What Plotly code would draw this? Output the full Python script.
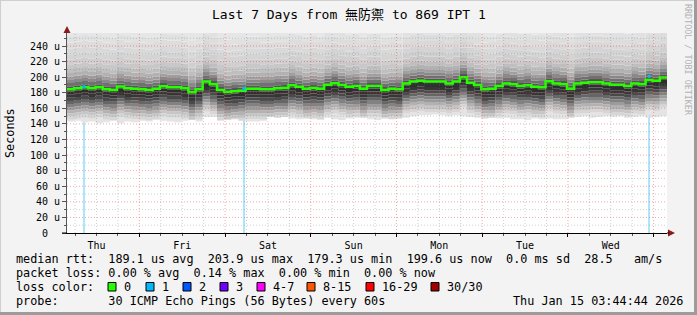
import plotly.graph_objects as go
import pandas as pd

# ---------------- data ----------------
start_time = "2026-01-08 03:44:44"
end_time = "2026-01-15 03:44:44"
step = "2h"

# median RTT in microseconds, one value per 2 h bin
median_rtt = [
    184.5, 185.7, 187.0, 185.7, 187.0, 184.5, 183.5, 188.0, 185.7, 185.0, 184.5, 183.5, 185.0, 188.5,
    187.0, 187.0, 185.7, 180.5, 184.5, 194.5, 191.0, 183.5, 181.0, 182.0, 182.6, 185.0, 185.0, 184.5,
    184.5, 185.7, 186.0, 189.5, 187.8, 185.0, 186.0, 185.0, 190.3, 192.1, 190.0, 187.8, 188.6, 185.0,
    188.6, 188.6, 183.5, 185.0, 184.5, 192.0, 194.3, 195.5, 194.3, 194.3, 194.3, 192.0, 194.3, 200.0,
    193.0, 190.0, 184.5, 185.0, 188.6, 192.0, 191.0, 188.6, 189.5, 187.8, 187.0, 194.7, 192.0, 191.0,
    185.0, 192.0, 193.0, 193.6, 193.6, 192.0, 190.3, 190.3, 188.6, 192.0, 191.0, 196.4, 195.5, 199.6,
]
# lowest ping of each bin (bottom edge of the smoke), microseconds
smoke_min = [
    143, 144, 142, 143, 141, 142, 144, 141, 143, 142, 144, 143, 145, 144,
    143, 142, 144, 145, 143, 149, 149, 144, 145, 146, 144, 143, 143, 144,
    149, 148, 149, 147, 146, 147, 146, 145, 148, 146, 145, 147, 148, 148,
    146, 145, 147, 146, 147, 148, 150, 151, 151, 152, 151, 150, 151, 150,
    149, 148, 147, 148, 147, 148, 146, 146, 145, 147, 146, 147, 146, 146,
    148, 149, 150, 148, 149, 150, 149, 150, 148, 149, 150, 148, 149, 150,
]
# spread of the 30 pings around the median (us below / above), one smoke shade per level
smoke_below = [39, 35, 31, 27, 23, 19, 15, 11, 7, 3]
smoke_above = [4, 8, 12, 16, 21, 26, 32, 38, 45, 52, 60, 67]
smoke_colors = [
    # below the median, from the lowest ping upwards
    "#e4e4e4", "#d6d6d6", "#c6c6c6", "#b2b2b2", "#9c9c9c", "#828282", "#666666", "#4a4a4a",
    "#363636", "#2e2e2e", "#3a3a3a",
    # above the median, upwards
    "#565656", "#707070", "#8a8a8a", "#a0a0a0", "#b2b2b2", "#bfbfbf", "#c8c8c8", "#cfcfcf",
    "#d4d4d4", "#d9d9d9", "#dddddd", "#e1e1e1", "#e6e6e6",
]
smoke_ceiling = 262

# packet loss events
loss_times = ["2026-01-08 08:30:00", "2026-01-10 05:15:00", "2026-01-14 22:45:00"]
loss_count = [1, 1, 1]
loss_rtt = [187.8, 185.0, 201.0]

y_ticks = [0, 20, 40, 60, 80, 100, 120, 140, 160, 180, 200, 220, 240]
y_tick_labels = ["0\u00a0\u00a0", "20 u", "40 u", "60 u", "80 u", "100 u", "120 u", "140 u",
                 "160 u", "180 u", "200 u", "220 u", "240 u"]
y_top = 256.7

loss_legend_labels = ["0", "1", "2", "3", "4-7", "8-15", "16-29", "30/30"]
loss_legend_colors = ["#26ff00", "#00b8ff", "#0059ff", "#7000ff", "#ff00ff", "#ff5500", "#ff0000", "#a10000"]
loss_bar_color = "#ade6fa"

title = "Last 7 Days from 無防禦 to 869 IPT 1"
stat_lines = [
    "median rtt:  189.1 us avg  203.9 us max  179.3 us min  199.6 us now  0.0 ms sd  28.5   am/s",
    "packet loss: 0.00 % avg  0.14 % max  0.00 % min  0.00 % now",
    "loss color:",
    "probe:       30 ICMP Echo Pings (56 Bytes) every 60s",
]
stamp = "Thu Jan 15 03:44:44 2026"

# ---------------- figure ----------------
W_FIG, H_FIG = 697, 315
L, T, PW, PH = 67, 33, 600, 200


def px(x):
    return (x - L) / PW


def py(y):
    return (T + PH - y) / PH


times = list(pd.date_range(start_time, periods=len(median_rtt), freq=step))
xs = times + [pd.Timestamp(end_time)]


def ext(v):
    return list(v) + [v[-1]]


fig = go.Figure()

# loss bars (drawn underneath the smoke)
ms_per_px = 7 * 86400000 / PW
fig.add_trace(go.Bar(x=loss_times, y=[y_top] * len(loss_times), width=[2 * ms_per_px] * len(loss_times),
                     marker=dict(color=loss_bar_color, line=dict(width=0)), hoverinfo="skip",
                     showlegend=False))

# smoke
edges = [smoke_min]
for off in smoke_below:
    edges.append([max(m - off, lo) for m, lo in zip(median_rtt, smoke_min)])
edges.append(list(median_rtt))
for off in smoke_above:
    edges.append([m + off for m in median_rtt])
edges.append([smoke_ceiling] * len(median_rtt))

fig.add_trace(go.Scatter(x=xs, y=ext(edges[0]), mode="lines", line=dict(width=0, shape="hv"),
                         hoverinfo="skip", showlegend=False))
for e, col in zip(edges[1:], smoke_colors):
    fig.add_trace(go.Scatter(x=xs, y=ext(e), mode="lines", line=dict(width=0, shape="hv"),
                             fill="tonexty", fillcolor=col, hoverinfo="skip", showlegend=False))

# median line
fig.add_trace(go.Scatter(x=xs, y=ext(median_rtt), mode="lines",
                         line=dict(color="#26ff00", width=2.5, shape="hv"),
                         hoverinfo="skip", showlegend=False))
fig.add_trace(go.Scatter(x=loss_times, y=loss_rtt, mode="markers",
                         marker=dict(symbol="square", size=3, color=[loss_legend_colors[c] for c in loss_count]),
                         hoverinfo="skip", showlegend=False))

mono = "DejaVu Sans Mono"
shapes = []

# grid drawn on top of the graph, like rrdtool
for v in range(10, int(y_top) + 1, 10):
    major = v % 20 == 0
    shapes.append(dict(type="line", xref="paper", yref="y", x0=0, x1=1, y0=v, y1=v, layer="above",
                       line=dict(color="rgba(235,60,60,0.45)" if major else "rgba(120,120,120,0.35)",
                                 width=1, dash="1px,2px")))
for t in pd.date_range("2026-01-08 06:00", "2026-01-15 00:00", freq="6h"):
    major = t.hour == 0
    shapes.append(dict(type="line", xref="x", yref="paper", x0=t, x1=t, y0=0, y1=1, layer="above",
                       line=dict(color="rgba(235,60,60,0.45)" if major else "rgba(120,120,120,0.35)",
                                 width=1, dash="1px,2px")))

# axis arrows
arrow_col = "#8b1a1a"
shapes.append(dict(type="path", xref="paper", yref="paper", layer="above",
                   path=f"M {px(668)} {py(229.5)} L {px(675)} {py(233)} L {px(668)} {py(236.5)} Z",
                   fillcolor=arrow_col, line=dict(width=0)))
shapes.append(dict(type="path", xref="paper", yref="paper", layer="above",
                   path=f"M {px(63.5)} {py(33)} L {px(67)} {py(26)} L {px(70.5)} {py(33)} Z",
                   fillcolor=arrow_col, line=dict(width=0)))
shapes.append(dict(type="line", xref="paper", yref="paper", x0=px(667), x1=px(669), y0=0, y1=0,
                   line=dict(color="black", width=1)))
shapes.append(dict(type="line", xref="paper", yref="paper", x0=px(62), x1=0, y0=0, y1=0,
                   line=dict(color="black", width=1)))

# frame of the image
shapes.append(dict(type="line", xref="paper", yref="paper", x0=px(0), x1=px(697), y0=py(0.5), y1=py(0.5),
                   line=dict(color="#cfcfcf", width=1)))
shapes.append(dict(type="line", xref="paper", yref="paper", x0=px(0.5), x1=px(0.5), y0=py(0), y1=py(315),
                   line=dict(color="#cfcfcf", width=1)))
shapes.append(dict(type="line", xref="paper", yref="paper", x0=px(0), x1=px(697), y0=py(313.5), y1=py(313.5),
                   line=dict(color="#9c9c9c", width=3)))
shapes.append(dict(type="line", xref="paper", yref="paper", x0=px(695.5), x1=px(695.5), y0=py(0), y1=py(315),
                   line=dict(color="#9c9c9c", width=3)))

annotations = []


def txt(x, y, s, size=11.8, anchor="left", color="black", angle=0, fam=mono):
    annotations.append(dict(x=px(x), y=py(y), xref="paper", yref="paper", text=s.replace(" ", "\u00a0"),
                            showarrow=False, xanchor=anchor, yanchor="middle", textangle=angle,
                            font=dict(family=fam, size=size, color=color), borderpad=0))


txt(348.5, 15, title, size=13, anchor="center", fam="DejaVu Sans Mono, Noto Sans CJK TC")
txt(10, 133, "Seconds", size=11.8, anchor="center", angle=-90)
txt(688, 60, "RRDTOOL / TOBI OETIKER", size=8.4, anchor="center", angle=90, color="#b2b2b2")

line_y = [259, 273, 287, 301]
for s, yy in zip(stat_lines, line_y):
    txt(15, yy, s)
txt(512, 301, stamp)

swatch_x = [108, 146, 183, 220, 257, 307, 366, 431]
for sx, lab, col in zip(swatch_x, loss_legend_labels, loss_legend_colors):
    shapes.append(dict(type="rect", xref="paper", yref="paper", x0=px(sx), x1=px(sx + 8),
                       y0=py(291), y1=py(282.5), fillcolor=col, line=dict(color="black", width=1)))
    txt(sx + 15, 287, lab)

fig.update_layout(
    width=W_FIG, height=H_FIG,
    margin=dict(l=L, r=W_FIG - L - PW, t=T, b=H_FIG - T - PH, pad=0),
    paper_bgcolor="#f3f3f3", plot_bgcolor="white",
    bargap=0, showlegend=False,
    shapes=shapes, annotations=annotations,
    xaxis=dict(type="date", range=[start_time, end_time], tick0="2026-01-08", dtick=86400000,
               ticklabelmode="period", tickformat="%a", showgrid=False, zeroline=False,
               showline=True, linecolor="black", linewidth=1, ticks="outside", ticklen=3, tickcolor="black",
               tickfont=dict(family=mono, size=10, color="black"),
               minor=dict(dtick=6 * 3600000, ticks="outside", ticklen=2, tickcolor="#555", showgrid=False)),
    yaxis=dict(range=[0, y_top], tickvals=y_ticks, ticktext=y_tick_labels, showgrid=False, zeroline=False,
               showline=True, linecolor="#555", linewidth=1, ticks="outside", ticklen=4, tickcolor="#555",
               tickfont=dict(family=mono, size=10, color="black"),
               minor=dict(dtick=10, tick0=0, ticks="outside", ticklen=2, tickcolor="#555", showgrid=False)),
)

fig.write_html("out.html")
